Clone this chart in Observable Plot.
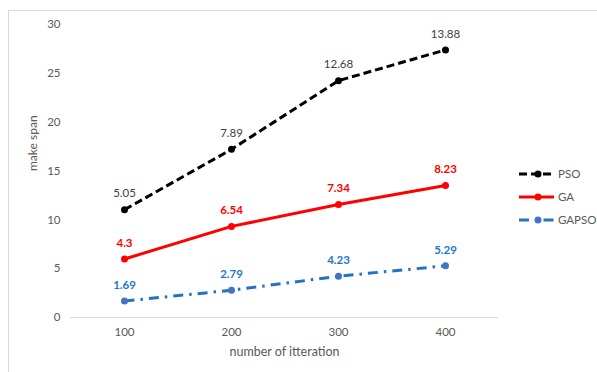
<!DOCTYPE html>
<html>
<head>
<meta charset="utf-8">
<script src="https://cdn.jsdelivr.net/npm/d3@7"></script>
<script src="https://cdn.jsdelivr.net/npm/@observablehq/plot@0.6"></script>
<style>
  html, body { margin: 0; padding: 0; background: #fff; overflow: hidden; }
  body { width: 597px; height: 372px; position: relative; font-family: Lato, "Open Sans", sans-serif; }
  #frame { position: absolute; left: 8px; top: 10px; width: 700px; height: 500px; border: 1px solid #d9d9d9; box-sizing: border-box; }
  #chart { position: absolute; left: 0; top: 0; }
  #legend { position: absolute; left: 519px; top: 162px; font-size: 11.5px; color: #595959; }
  .item { display: flex; align-items: center; height: 23px; }
  .item svg { display: block; margin-right: 4px; }
</style>
</head>
<body>
<div id="frame"></div>
<div id="chart"></div>
<div id="legend"></div>
<script>
// Iteration counts on the x axis
const iterations = [100, 200, 300, 400];
// Makespan of each algorithm (stacked: GAPSO at the bottom, then GA, then PSO)
const gapso = [1.69, 2.79, 4.23, 5.29];
const ga = [4.3, 6.54, 7.34, 8.23];
const pso = [5.05, 7.89, 12.68, 13.88];
const yTicks = [0, 5, 10, 15, 20, 25, 30];

const seriesNames = ["GAPSO", "GA", "PSO"];
const rows = iterations.map((it, i) => ({iteration: it, GAPSO: gapso[i], GA: ga[i], PSO: pso[i]}));
const layers = d3.stack().keys(seriesNames)(rows);
const bySeries = Object.fromEntries(layers.map(layer => [
  layer.key,
  layer.map(d => ({iteration: d.data.iteration, value: d.data[layer.key], top: d[1]}))
]));

const style = {
  PSO:   {stroke: "#000000", dash: "8,4",        marker: "#000000", label: "#404040", weight: "normal"},
  GA:    {stroke: "#ff0000", dash: null,         marker: "#ff0000", label: "#ff0000", weight: "bold"},
  GAPSO: {stroke: "#2372c4", dash: "10,6,2.5,6", marker: "#4472c4", label: "#2277cc", weight: "bold"}
};

const marks = [Plot.ruleY([0], {stroke: "#d9d9d9", strokeWidth: 1})];
for (const name of seriesNames) {
  const s = style[name];
  const data = bySeries[name];
  marks.push(
    Plot.line(data, {x: "iteration", y: "top", stroke: s.stroke, strokeWidth: 3,
      strokeDasharray: s.dash ?? undefined, strokeLinecap: "butt"}),
    Plot.dot(data, {x: "iteration", y: "top", r: 3.5, fill: s.marker, stroke: "none"}),
    Plot.text(data, {x: "iteration", y: "top", text: d => String(d.value), dy: -16,
      fill: s.label, fontWeight: s.weight, fontSize: 11.5})
  );
}
marks.push(
  Plot.axisX({tickSize: 0, tickPadding: 10, fontSize: 11.5, color: "#595959", label: null}),
  Plot.axisY({ticks: yTicks, tickSize: 0, tickPadding: 10, fontSize: 11.5, color: "#595959", label: null}),
  Plot.text(["number of itteration"], {frameAnchor: "bottom", dy: 38, fill: "#595959", fontSize: 12.5}),
  Plot.text(["make span"], {frameAnchor: "left", dx: -37, rotate: -90, fill: "#595959", fontSize: 12})
);

const chart = Plot.plot({
  width: 597,
  height: 372,
  marginLeft: 70,
  marginRight: 99,
  marginTop: 24,
  marginBottom: 55,
  style: {background: "transparent", fontFamily: "Lato, 'Open Sans', sans-serif", fontSize: "11px", color: "#595959"},
  x: {type: "point", domain: iterations, padding: 0.5},
  y: {domain: [0, 30]},
  marks
});
document.getElementById("chart").appendChild(chart);

// Legend: top to bottom PSO, GA, GAPSO
const legend = d3.select("#legend");
for (const name of ["PSO", "GA", "GAPSO"]) {
  const s = style[name];
  const item = legend.append("div").attr("class", "item");
  const svg = item.append("svg").attr("width", 35).attr("height", 10);
  const line = svg.append("line").attr("x1", 0).attr("x2", 35).attr("y1", 5).attr("y2", 5)
    .attr("stroke", s.stroke).attr("stroke-width", 3);
  if (s.dash) line.attr("stroke-dasharray", s.dash);
  svg.append("circle").attr("cx", 19).attr("cy", 5).attr("r", 3.5).attr("fill", s.marker);
  item.append("span").text(name);
}
</script>
</body>
</html>
